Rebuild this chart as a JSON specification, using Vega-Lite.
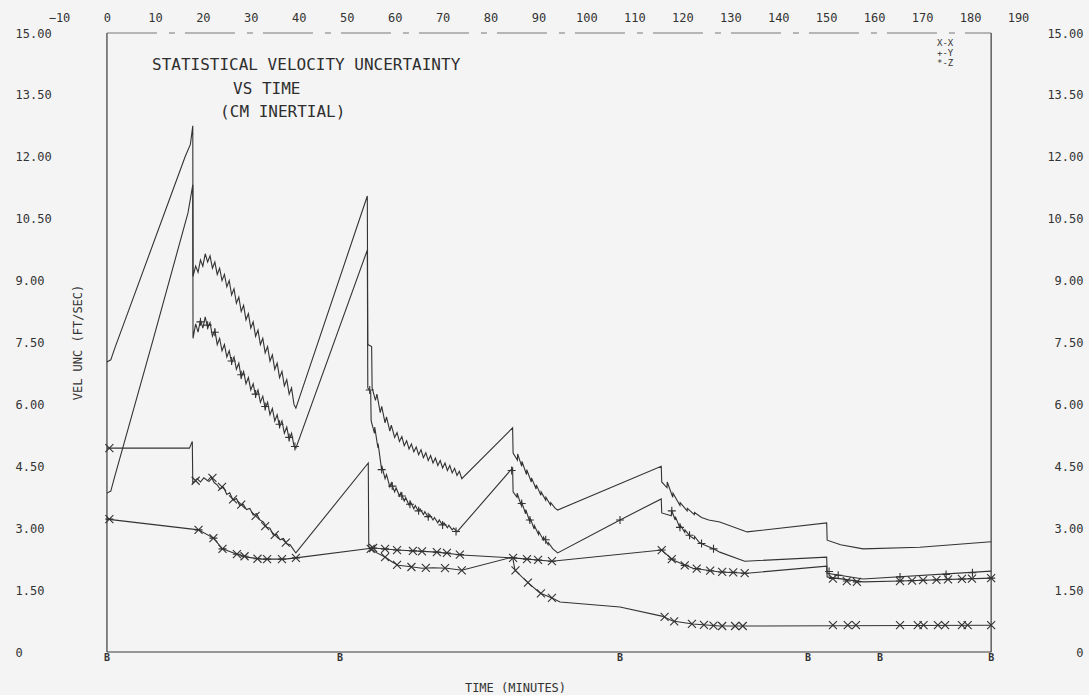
{
  "$schema": "https://vega.github.io/schema/vega-lite/v6.json",
  "width": 959,
  "height": 619,
  "autosize": {"type": "none"},
  "padding": {"left": 59, "top": 33, "right": 71, "bottom": 43},
  "background": "#f4f4f4",
  "config": {
    "view": {"stroke": null},
    "font": "DejaVu Sans Mono",
    "axis": {"grid": false, "domain": false, "ticks": false, "tickSize": 0, "labelFont": "DejaVu Sans Mono", "labelFontSize": 12, "labelColor": "#333333", "titleFont": "DejaVu Sans Mono", "titleFontSize": 12, "titleColor": "#333333", "titleFontWeight": "normal", "labelFlush": false, "labelOverlap": false}
  },
  "datasets": {
    "frame": [
      {"x": 0, "x2": 0, "y": 0, "y2": 15},
      {"x": 184.4, "x2": 184.4, "y": 0, "y2": 15},
      {"x": 0, "x2": 184.4, "y": 0, "y2": 0}
    ],
    "top": [{"x": 0, "x2": 184.4, "y": 15, "y2": 15}],
    "lines": [
      {"s":"A","t":0,"v":7.03},{"s":"A","t":0.8,"v":7.08},{"s":"A","t":1.6,"v":7.35},{"s":"A","t":16.3,"v":12.0},{"s":"A","t":17.4,"v":12.3},{"s":"A","t":17.9,"v":12.75},{"s":"A","t":17.95,"v":9.1},
      {"s":"A","t":18.5,"v":9.35},{"s":"A","t":19,"v":9.2},{"s":"A","t":19.5,"v":9.5},{"s":"A","t":20,"v":9.35},{"s":"A","t":20.5,"v":9.65},{"s":"A","t":21,"v":9.45},{"s":"A","t":21.5,"v":9.6},{"s":"A","t":22,"v":9.3},{"s":"A","t":22.5,"v":9.45},{"s":"A","t":23,"v":9.15},{"s":"A","t":23.5,"v":9.3},{"s":"A","t":24,"v":9.0},{"s":"A","t":24.5,"v":9.15},{"s":"A","t":25,"v":8.85},{"s":"A","t":25.5,"v":9.0},{"s":"A","t":26,"v":8.65},{"s":"A","t":26.5,"v":8.8},{"s":"A","t":27,"v":8.45},{"s":"A","t":27.5,"v":8.6},{"s":"A","t":28,"v":8.25},{"s":"A","t":28.5,"v":8.4},{"s":"A","t":29,"v":8.05},{"s":"A","t":29.5,"v":8.2},{"s":"A","t":30,"v":7.85},{"s":"A","t":30.5,"v":8.0},{"s":"A","t":31,"v":7.65},{"s":"A","t":31.5,"v":7.8},{"s":"A","t":32,"v":7.45},{"s":"A","t":32.5,"v":7.6},{"s":"A","t":33,"v":7.25},{"s":"A","t":33.5,"v":7.4},{"s":"A","t":34,"v":7.05},{"s":"A","t":34.5,"v":7.2},{"s":"A","t":35,"v":6.85},{"s":"A","t":35.5,"v":7.0},{"s":"A","t":36,"v":6.65},{"s":"A","t":36.5,"v":6.8},{"s":"A","t":37,"v":6.45},{"s":"A","t":37.5,"v":6.6},{"s":"A","t":38,"v":6.25},{"s":"A","t":38.5,"v":6.4},{"s":"A","t":39,"v":6.0},{"s":"A","t":39.4,"v":5.91},
      {"s":"A","t":54.3,"v":11.05},{"s":"A","t":54.4,"v":7.45},{"s":"A","t":55.2,"v":7.4},{"s":"A","t":55.3,"v":6.4},{"s":"A","t":56,"v":6.1},{"s":"A","t":56.3,"v":6.25},{"s":"A","t":57,"v":5.8},{"s":"A","t":57.3,"v":5.95},{"s":"A","t":58,"v":5.55},{"s":"A","t":58.3,"v":5.7},{"s":"A","t":59,"v":5.35},{"s":"A","t":59.3,"v":5.5},{"s":"A","t":60,"v":5.2},{"s":"A","t":60.5,"v":5.32},{"s":"A","t":61,"v":5.1},{"s":"A","t":61.5,"v":5.22},{"s":"A","t":62,"v":5.0},{"s":"A","t":62.5,"v":5.12},{"s":"A","t":63,"v":4.92},{"s":"A","t":63.5,"v":5.04},{"s":"A","t":64,"v":4.85},{"s":"A","t":64.5,"v":4.97},{"s":"A","t":65,"v":4.78},{"s":"A","t":65.5,"v":4.9},{"s":"A","t":66,"v":4.71},{"s":"A","t":66.5,"v":4.83},{"s":"A","t":67,"v":4.64},{"s":"A","t":67.5,"v":4.76},{"s":"A","t":68,"v":4.58},{"s":"A","t":68.5,"v":4.7},{"s":"A","t":69,"v":4.52},{"s":"A","t":69.5,"v":4.64},{"s":"A","t":70,"v":4.46},{"s":"A","t":70.5,"v":4.58},{"s":"A","t":71,"v":4.4},{"s":"A","t":71.5,"v":4.52},{"s":"A","t":72,"v":4.34},{"s":"A","t":72.5,"v":4.45},{"s":"A","t":73,"v":4.28},{"s":"A","t":73.5,"v":4.38},{"s":"A","t":74,"v":4.2},
      {"s":"A","t":84.6,"v":5.43},{"s":"A","t":84.7,"v":4.82},{"s":"A","t":85.6,"v":4.65},{"s":"A","t":85.65,"v":4.8},{"s":"A","t":86.5,"v":4.5},{"s":"A","t":86.55,"v":4.62},{"s":"A","t":87.5,"v":4.3},{"s":"A","t":87.55,"v":4.42},{"s":"A","t":88.5,"v":4.12},{"s":"A","t":88.55,"v":4.22},{"s":"A","t":89.5,"v":3.95},{"s":"A","t":89.55,"v":4.05},{"s":"A","t":90.5,"v":3.8},{"s":"A","t":90.55,"v":3.88},{"s":"A","t":91.5,"v":3.68},{"s":"A","t":91.55,"v":3.75},{"s":"A","t":92.5,"v":3.56},{"s":"A","t":92.55,"v":3.62},{"s":"A","t":93.5,"v":3.48},{"s":"A","t":94,"v":3.44},
      {"s":"A","t":115.6,"v":4.5},{"s":"A","t":115.7,"v":4.12},{"s":"A","t":116.8,"v":3.98},{"s":"A","t":116.85,"v":4.12},{"s":"A","t":118,"v":3.75},{"s":"A","t":118.05,"v":3.85},{"s":"A","t":119.5,"v":3.55},{"s":"A","t":119.55,"v":3.62},{"s":"A","t":121,"v":3.42},{"s":"A","t":121.05,"v":3.48},{"s":"A","t":122.5,"v":3.33},{"s":"A","t":122.55,"v":3.38},{"s":"A","t":124,"v":3.26},{"s":"A","t":125.5,"v":3.2},{"s":"A","t":127.8,"v":3.15},{"s":"A","t":133.5,"v":2.91},{"s":"A","t":150.1,"v":3.13},{"s":"A","t":150.2,"v":2.71},{"s":"A","t":153,"v":2.6},{"s":"A","t":157.7,"v":2.5},{"s":"A","t":169.5,"v":2.54},{"s":"A","t":184.4,"v":2.67},

      {"s":"B","t":0,"v":3.85},{"s":"B","t":0.8,"v":3.9},{"s":"B","t":1.5,"v":4.2},{"s":"B","t":9.6,"v":7.56},{"s":"B","t":16.9,"v":10.64},{"s":"B","t":17.9,"v":11.32},{"s":"B","t":17.95,"v":7.6},
      {"s":"B","t":18.5,"v":7.95},{"s":"B","t":19,"v":7.75},{"s":"B","t":19.5,"v":8.05},{"s":"B","t":20,"v":7.85},{"s":"B","t":20.5,"v":8.12},{"s":"B","t":21,"v":7.85},{"s":"B","t":21.5,"v":7.98},{"s":"B","t":22,"v":7.65},{"s":"B","t":22.5,"v":7.8},{"s":"B","t":23,"v":7.45},{"s":"B","t":23.5,"v":7.6},{"s":"B","t":24,"v":7.3},{"s":"B","t":24.5,"v":7.45},{"s":"B","t":25,"v":7.15},{"s":"B","t":25.5,"v":7.3},{"s":"B","t":26,"v":7.0},{"s":"B","t":26.5,"v":7.15},{"s":"B","t":27,"v":6.85},{"s":"B","t":27.5,"v":7.0},{"s":"B","t":28,"v":6.65},{"s":"B","t":28.5,"v":6.8},{"s":"B","t":29,"v":6.5},{"s":"B","t":29.5,"v":6.65},{"s":"B","t":30,"v":6.35},{"s":"B","t":30.5,"v":6.5},{"s":"B","t":31,"v":6.2},{"s":"B","t":31.5,"v":6.35},{"s":"B","t":32,"v":6.05},{"s":"B","t":32.5,"v":6.2},{"s":"B","t":33,"v":5.9},{"s":"B","t":33.5,"v":6.05},{"s":"B","t":34,"v":5.75},{"s":"B","t":34.5,"v":5.9},{"s":"B","t":35,"v":5.6},{"s":"B","t":35.5,"v":5.75},{"s":"B","t":36,"v":5.45},{"s":"B","t":36.5,"v":5.6},{"s":"B","t":37,"v":5.3},{"s":"B","t":37.5,"v":5.45},{"s":"B","t":38,"v":5.15},{"s":"B","t":38.5,"v":5.3},{"s":"B","t":39,"v":5.0},{"s":"B","t":39.4,"v":4.94},
      {"s":"B","t":54.3,"v":9.74},{"s":"B","t":54.4,"v":6.4},{"s":"B","t":55.0,"v":6.3},{"s":"B","t":55.1,"v":5.6},{"s":"B","t":55.8,"v":5.3},{"s":"B","t":55.85,"v":5.45},{"s":"B","t":56.5,"v":4.95},{"s":"B","t":56.55,"v":5.05},{"s":"B","t":57.3,"v":4.4},{"s":"B","t":57.35,"v":4.5},{"s":"B","t":58,"v":4.2},{"s":"B","t":58.3,"v":4.3},{"s":"B","t":59,"v":4.0},{"s":"B","t":59.3,"v":4.1},{"s":"B","t":60,"v":3.88},{"s":"B","t":60.3,"v":3.98},{"s":"B","t":61,"v":3.78},{"s":"B","t":61.3,"v":3.86},{"s":"B","t":62,"v":3.66},{"s":"B","t":62.3,"v":3.74},{"s":"B","t":63,"v":3.56},{"s":"B","t":63.3,"v":3.64},{"s":"B","t":64,"v":3.47},{"s":"B","t":64.3,"v":3.55},{"s":"B","t":65,"v":3.4},{"s":"B","t":65.3,"v":3.47},{"s":"B","t":66,"v":3.33},{"s":"B","t":66.3,"v":3.4},{"s":"B","t":67,"v":3.26},{"s":"B","t":67.3,"v":3.33},{"s":"B","t":68,"v":3.2},{"s":"B","t":68.3,"v":3.26},{"s":"B","t":69,"v":3.13},{"s":"B","t":69.3,"v":3.2},{"s":"B","t":70,"v":3.07},{"s":"B","t":70.3,"v":3.13},{"s":"B","t":71,"v":3.01},{"s":"B","t":71.3,"v":3.07},{"s":"B","t":72,"v":2.96},{"s":"B","t":72.3,"v":3.0},{"s":"B","t":73,"v":2.91},
      {"s":"B","t":84.6,"v":4.46},{"s":"B","t":84.7,"v":3.88},{"s":"B","t":85.5,"v":3.75},{"s":"B","t":85.55,"v":3.85},{"s":"B","t":86.4,"v":3.55},{"s":"B","t":86.45,"v":3.65},{"s":"B","t":87.3,"v":3.35},{"s":"B","t":87.35,"v":3.45},{"s":"B","t":88.2,"v":3.15},{"s":"B","t":88.25,"v":3.25},{"s":"B","t":89.1,"v":2.98},{"s":"B","t":89.15,"v":3.06},{"s":"B","t":90,"v":2.85},{"s":"B","t":90.05,"v":2.92},{"s":"B","t":91,"v":2.72},{"s":"B","t":91.05,"v":2.78},{"s":"B","t":92,"v":2.6},{"s":"B","t":92.05,"v":2.65},{"s":"B","t":93,"v":2.5},{"s":"B","t":94,"v":2.4},
      {"s":"B","t":107,"v":3.2},{"s":"B","t":115.6,"v":3.71},{"s":"B","t":115.7,"v":3.37},{"s":"B","t":117.7,"v":3.3},{"s":"B","t":117.75,"v":3.44},{"s":"B","t":118.5,"v":3.2},{"s":"B","t":118.55,"v":3.28},{"s":"B","t":119.5,"v":3.0},{"s":"B","t":119.55,"v":3.08},{"s":"B","t":120.5,"v":2.9},{"s":"B","t":120.55,"v":2.96},{"s":"B","t":121.5,"v":2.82},{"s":"B","t":122.5,"v":2.74},{"s":"B","t":122.55,"v":2.8},{"s":"B","t":123.5,"v":2.66},{"s":"B","t":124.5,"v":2.6},{"s":"B","t":125.5,"v":2.55},{"s":"B","t":126.5,"v":2.5},{"s":"B","t":127.8,"v":2.42},{"s":"B","t":133,"v":2.2},{"s":"B","t":150.1,"v":2.3},{"s":"B","t":150.2,"v":1.91},{"s":"B","t":157.7,"v":1.77},{"s":"B","t":184.4,"v":1.96},

      {"s":"C","t":0,"v":4.94},{"s":"C","t":17.2,"v":4.94},{"s":"C","t":17.6,"v":5.05},{"s":"C","t":17.8,"v":5.1},{"s":"C","t":17.9,"v":4.1},{"s":"C","t":18.8,"v":4.2},{"s":"C","t":19.5,"v":4.12},{"s":"C","t":20.2,"v":4.22},{"s":"C","t":21,"v":4.15},{"s":"C","t":21.7,"v":4.25},{"s":"C","t":22.4,"v":4.1},{"s":"C","t":23,"v":4.05},{"s":"C","t":23.6,"v":3.95},{"s":"C","t":24.3,"v":4.0},{"s":"C","t":25,"v":3.82},{"s":"C","t":25.6,"v":3.86},{"s":"C","t":26.3,"v":3.68},{"s":"C","t":27,"v":3.72},{"s":"C","t":27.7,"v":3.55},{"s":"C","t":28.4,"v":3.58},{"s":"C","t":29.1,"v":3.45},{"s":"C","t":29.8,"v":3.48},{"s":"C","t":30.5,"v":3.32},{"s":"C","t":31.2,"v":3.35},{"s":"C","t":31.9,"v":3.2},{"s":"C","t":32.6,"v":3.15},{"s":"C","t":33.3,"v":3.02},{"s":"C","t":34,"v":3.0},{"s":"C","t":34.7,"v":2.83},{"s":"C","t":35.4,"v":2.85},{"s":"C","t":36.1,"v":2.72},{"s":"C","t":36.8,"v":2.75},{"s":"C","t":37.5,"v":2.62},{"s":"C","t":38.2,"v":2.6},{"s":"C","t":38.9,"v":2.48},{"s":"C","t":39.4,"v":2.4},
      {"s":"C","t":54.5,"v":4.58},{"s":"C","t":54.6,"v":2.55},{"s":"C","t":56,"v":2.42},{"s":"C","t":58,"v":2.3},{"s":"C","t":59.5,"v":2.18},{"s":"C","t":60.7,"v":2.1},{"s":"C","t":63,"v":2.07},{"s":"C","t":65.7,"v":2.03},{"s":"C","t":68,"v":2.04},{"s":"C","t":70.9,"v":2.03},{"s":"C","t":74,"v":1.98},{"s":"C","t":84.6,"v":2.3},{"s":"C","t":85.1,"v":1.98},{"s":"C","t":87.8,"v":1.68},{"s":"C","t":90.3,"v":1.43},{"s":"C","t":92.8,"v":1.31},{"s":"C","t":94.5,"v":1.21},{"s":"C","t":107,"v":1.09},{"s":"C","t":115.7,"v":0.87},{"s":"C","t":118,"v":0.75},{"s":"C","t":122.2,"v":0.68},{"s":"C","t":127.8,"v":0.63},{"s":"C","t":133.7,"v":0.63},{"s":"C","t":184.4,"v":0.65},

      {"s":"D","t":0,"v":3.22},{"s":"D","t":19.1,"v":2.96},{"s":"D","t":22.2,"v":2.76},{"s":"D","t":24.1,"v":2.5},{"s":"D","t":27.1,"v":2.37},{"s":"D","t":29.2,"v":2.3},{"s":"D","t":32.3,"v":2.25},{"s":"D","t":37.1,"v":2.25},{"s":"D","t":39.4,"v":2.28},{"s":"D","t":55.5,"v":2.52},{"s":"D","t":60.5,"v":2.47},{"s":"D","t":68.8,"v":2.42},{"s":"D","t":74,"v":2.35},{"s":"D","t":84.7,"v":2.28},{"s":"D","t":92.8,"v":2.2},{"s":"D","t":115.7,"v":2.47},{"s":"D","t":118,"v":2.23},{"s":"D","t":122.2,"v":2.03},{"s":"D","t":127.8,"v":1.94},{"s":"D","t":133.5,"v":1.91},{"s":"D","t":150.1,"v":2.08},{"s":"D","t":150.2,"v":1.82},{"s":"D","t":157.7,"v":1.7},{"s":"D","t":165.4,"v":1.72},{"s":"D","t":184.4,"v":1.79}
    ],
    "markers": [
      {"s":"X","t":0.5,"v":4.94},{"s":"X","t":18.5,"v":4.15},{"s":"X","t":22,"v":4.22},{"s":"X","t":24,"v":4.0},{"s":"X","t":26.3,"v":3.7},{"s":"X","t":28,"v":3.57},{"s":"X","t":31,"v":3.3},{"s":"X","t":33,"v":3.05},{"s":"X","t":35,"v":2.84},{"s":"X","t":37.3,"v":2.65},{"s":"X","t":55,"v":2.5},{"s":"X","t":58,"v":2.3},{"s":"X","t":60.5,"v":2.11},{"s":"X","t":63.5,"v":2.06},{"s":"X","t":66.5,"v":2.04},{"s":"X","t":70.5,"v":2.03},{"s":"X","t":74,"v":1.98},{"s":"X","t":85.2,"v":1.98},{"s":"X","t":87.8,"v":1.68},{"s":"X","t":90.5,"v":1.42},{"s":"X","t":92.8,"v":1.31},{"s":"X","t":116.3,"v":0.85},{"s":"X","t":118.3,"v":0.74},{"s":"X","t":122,"v":0.68},{"s":"X","t":124.5,"v":0.66},{"s":"X","t":126.5,"v":0.64},{"s":"X","t":128.3,"v":0.63},{"s":"X","t":131,"v":0.63},{"s":"X","t":132.6,"v":0.63},{"s":"X","t":151.4,"v":0.65},{"s":"X","t":154.5,"v":0.65},{"s":"X","t":156.2,"v":0.65},{"s":"X","t":165.4,"v":0.65},{"s":"X","t":169.1,"v":0.65},{"s":"X","t":170.3,"v":0.65},{"s":"X","t":173.3,"v":0.65},{"s":"X","t":174.8,"v":0.65},{"s":"X","t":178.3,"v":0.65},{"s":"X","t":179.5,"v":0.65},{"s":"X","t":184.4,"v":0.65},
      {"s":"Y","t":19.5,"v":8.0},{"s":"Y","t":21,"v":7.92},{"s":"Y","t":22.5,"v":7.75},{"s":"Y","t":26,"v":7.05},{"s":"Y","t":28,"v":6.72},{"s":"Y","t":31,"v":6.25},{"s":"Y","t":33,"v":5.95},{"s":"Y","t":36,"v":5.52},{"s":"Y","t":38,"v":5.2},{"s":"Y","t":39.2,"v":4.98},{"s":"Y","t":54.8,"v":6.35},{"s":"Y","t":57.3,"v":4.42},{"s":"Y","t":59.5,"v":4.02},{"s":"Y","t":61.5,"v":3.78},{"s":"Y","t":63.2,"v":3.58},{"s":"Y","t":65,"v":3.42},{"s":"Y","t":67,"v":3.28},{"s":"Y","t":70,"v":3.08},{"s":"Y","t":72.8,"v":2.92},{"s":"Y","t":84.4,"v":4.4},{"s":"Y","t":86.5,"v":3.6},{"s":"Y","t":88.2,"v":3.2},{"s":"Y","t":91.5,"v":2.72},{"s":"Y","t":107,"v":3.2},{"s":"Y","t":117.8,"v":3.42},{"s":"Y","t":119.5,"v":3.02},{"s":"Y","t":121.5,"v":2.83},{"s":"Y","t":124,"v":2.63},{"s":"Y","t":126.5,"v":2.5},{"s":"Y","t":150.6,"v":1.95},{"s":"Y","t":152.5,"v":1.86},{"s":"Y","t":165.4,"v":1.82},{"s":"Y","t":175,"v":1.88},{"s":"Y","t":180.5,"v":1.92},
      {"s":"Z","t":0.5,"v":3.22},{"s":"Z","t":19.1,"v":2.96},{"s":"Z","t":22.2,"v":2.76},{"s":"Z","t":24.1,"v":2.5},{"s":"Z","t":27.1,"v":2.37},{"s":"Z","t":28.7,"v":2.32},{"s":"Z","t":31.4,"v":2.26},{"s":"Z","t":33.4,"v":2.25},{"s":"Z","t":36.5,"v":2.25},{"s":"Z","t":39.4,"v":2.28},{"s":"Z","t":55.5,"v":2.52},{"s":"Z","t":58,"v":2.5},{"s":"Z","t":60.5,"v":2.47},{"s":"Z","t":63.8,"v":2.45},{"s":"Z","t":65.7,"v":2.44},{"s":"Z","t":68.8,"v":2.42},{"s":"Z","t":70.9,"v":2.4},{"s":"Z","t":73.6,"v":2.36},{"s":"Z","t":84.7,"v":2.28},{"s":"Z","t":87.6,"v":2.25},{"s":"Z","t":89.9,"v":2.23},{"s":"Z","t":92.8,"v":2.2},{"s":"Z","t":115.7,"v":2.47},{"s":"Z","t":117.8,"v":2.25},{"s":"Z","t":120.5,"v":2.1},{"s":"Z","t":123,"v":2.02},{"s":"Z","t":125.8,"v":1.97},{"s":"Z","t":128.3,"v":1.94},{"s":"Z","t":130.6,"v":1.93},{"s":"Z","t":133,"v":1.91},{"s":"Z","t":151.4,"v":1.78},{"s":"Z","t":154.3,"v":1.72},{"s":"Z","t":156.4,"v":1.7},{"s":"Z","t":165.4,"v":1.72},{"s":"Z","t":167.9,"v":1.73},{"s":"Z","t":170.2,"v":1.74},{"s":"Z","t":173,"v":1.75},{"s":"Z","t":175.4,"v":1.76},{"s":"Z","t":178.3,"v":1.77},{"s":"Z","t":180.4,"v":1.78},{"s":"Z","t":184.4,"v":1.79}
    ],
    "bmarks": [{"t":0},{"t":48.6},{"t":107},{"t":146.2},{"t":161.2},{"t":184.4}],
    "titles": [
      {"t":9.4,"v":14.22,"text":"STATISTICAL VELOCITY UNCERTAINTY"},
      {"t":26.3,"v":13.64,"text":"VS TIME"},
      {"t":23.6,"v":13.08,"text":"(CM INERTIAL)"}
    ],
    "legend": [
      {"t":173.1,"v":14.76,"text":"X-X"},
      {"t":173.1,"v":14.52,"text":"+-Y"},
      {"t":173.1,"v":14.28,"text":"*-Z"}
    ]
  },
  "resolve": {"axis": {"x": "independent", "y": "independent"}},
  "layer": [
    {
      "data": {"name": "frame"},
      "mark": {"type": "rule", "color": "#3a3a3a", "strokeWidth": 1.2},
      "encoding": {
        "x": {"field": "x", "type": "quantitative", "scale": {"domain": [-10, 190], "nice": false, "zero": false},
              "axis": {"orient": "top", "values": [-10,0,10,20,30,40,50,60,70,80,90,100,110,120,130,140,150,160,170,180,190], "labelPadding": 16, "labelBaseline": "middle", "title": null}},
        "x2": {"field": "x2"},
        "y": {"field": "y", "type": "quantitative", "scale": {"domain": [0, 15], "nice": false, "zero": false},
              "axis": {"orient": "left", "values": [0,1.5,3,4.5,6,7.5,9,10.5,12,13.5,15], "labelExpr": "datum.value == 0 ? '0' : format(datum.value, '.2f')", "labelAlign": "left", "labelPadding": 44, "title": "VEL UNC (FT/SEC)", "titleX": 18, "titleY": 309, "titleAngle": -90, "titleAlign": "center", "titleBaseline": "middle"}},
        "y2": {"field": "y2"}
      }
    },
    {
      "data": {"name": "top"},
      "mark": {"type": "rule", "color": "#777777", "strokeWidth": 1, "strokeDash": [50, 12, 6, 10]},
      "encoding": {
        "x": {"field": "x", "type": "quantitative", "axis": null},
        "x2": {"field": "x2"},
        "y": {"field": "y", "type": "quantitative", "axis": null},
        "y2": {"field": "y2"}
      }
    },
    {
      "data": {"name": "lines"},
      "mark": {"type": "line", "color": "#333333", "strokeWidth": 1.1},
      "encoding": {
        "x": {"field": "t", "type": "quantitative", "axis": {"orient": "bottom", "labels": false, "title": "TIME (MINUTES)", "titleX": 456, "titleY": 35, "titleAlign": "center", "titleBaseline": "middle"}},
        "y": {"field": "v", "type": "quantitative", "axis": {"orient": "right", "values": [0,1.5,3,4.5,6,7.5,9,10.5,12,13.5,15], "labelExpr": "datum.value == 0 ? '0' : format(datum.value, '.2f')", "labelAlign": "right", "labelPadding": 65, "title": null}},
        "detail": {"field": "s"}
      }
    },
    {
      "data": {"name": "markers"},
      "mark": {"type": "point", "filled": false, "color": "#333333", "strokeWidth": 1.1, "size": 64, "opacity": 1},
      "encoding": {
        "x": {"field": "t", "type": "quantitative", "axis": null},
        "y": {"field": "v", "type": "quantitative", "axis": null},
        "shape": {"field": "s", "type": "nominal", "legend": null,
                  "scale": {"domain": ["X", "Y", "Z"], "range": ["M-1,-1L1,1M-1,1L1,-1", "M-1,0L1,0M0,-1L0,1", "M-1,-1L1,1M-1,1L1,-1M-1,0L1,0"]}}
      }
    },
    {
      "data": {"name": "bmarks"},
      "mark": {"type": "text", "text": "B", "fontSize": 10, "fontWeight": "bold", "color": "#333333", "baseline": "top", "dy": 1},
      "encoding": {
        "x": {"field": "t", "type": "quantitative", "axis": null},
        "y": {"datum": 0, "type": "quantitative", "axis": null}
      }
    },
    {
      "data": {"name": "titles"},
      "mark": {"type": "text", "fontSize": 16, "color": "#2e2e2e", "align": "left", "baseline": "middle"},
      "encoding": {
        "x": {"field": "t", "type": "quantitative", "axis": null},
        "y": {"field": "v", "type": "quantitative", "axis": null},
        "text": {"field": "text"}
      }
    },
    {
      "data": {"name": "legend"},
      "mark": {"type": "text", "fontSize": 9, "color": "#333333", "align": "left", "baseline": "middle"},
      "encoding": {
        "x": {"field": "t", "type": "quantitative", "axis": null},
        "y": {"field": "v", "type": "quantitative", "axis": null},
        "text": {"field": "text"}
      }
    }
  ]
}
